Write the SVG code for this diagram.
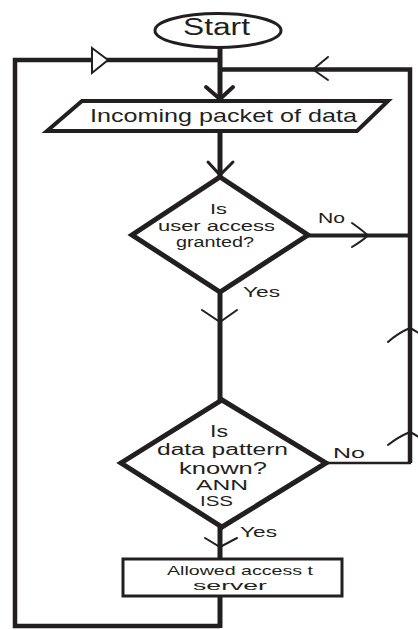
<svg xmlns="http://www.w3.org/2000/svg" width="418" height="630" viewBox="0 0 418 630">
<style>
.shape{fill:#fff;stroke:#231f20;stroke-linejoin:miter}
.ln{fill:none;stroke:#231f20;stroke-linecap:butt;stroke-linejoin:miter}
.ah{fill:none;stroke:#231f20;stroke-linecap:round}
text{font-family:"Liberation Sans",Arial,sans-serif;fill:#231f20}
</style>
<rect width="418" height="630" fill="#fff"/>
<g id="connectors">
  <!-- left loop -->
  <polyline class="ln" stroke-width="4.5" points="220,626 15,626 15,60 220,60"/>
  <polygon points="92,48 108,60 92,73" fill="#fff" stroke="#231f20" stroke-width="2"/>
  <!-- right loop -->
  <polyline class="ln" stroke-width="4" points="308,235.5 410,235.5"/>
  <polyline class="ln" stroke-width="4.5" points="410,463 410,69.5 220,69.5"/>
  <polyline class="ln" stroke-width="2.5" points="326,463 411,463"/>
  <path class="ah" stroke-width="2" d="M328,57 L313,69.5 L328,80"/>
  <path class="ah" stroke-width="2" d="M352,223 Q362,230 368,235.5 Q362,241 352,247"/>
  <path class="ah" stroke-width="2" d="M388,342 Q398,333 410,328 Q420,333 430,342"/>
  <path class="ah" stroke-width="2" d="M388,445 Q398,437 410,432 Q420,437 430,445"/>
  <!-- main spine -->
  <line class="ln" stroke-width="5" x1="220" y1="47" x2="220" y2="101"/>
  <path class="ah" stroke-width="4" d="M206,87 L220,99 L233,87"/>
  <line class="ln" stroke-width="5" x1="220" y1="131" x2="220" y2="178"/>
  <path class="ah" stroke-width="3" d="M208,162 L220,175 L233,162"/>
  <line class="ln" stroke-width="5" x1="220" y1="292" x2="220" y2="412"/>
  <path class="ah" stroke-width="2" d="M202,310 L220,322 L237,310"/>
  <line class="ln" stroke-width="5" x1="220" y1="526" x2="220" y2="559"/>
  <path class="ah" stroke-width="2" d="M205,538 L220,547 L237,538"/>
  <line class="ln" stroke-width="5" x1="220" y1="596" x2="220" y2="628"/>
  <text x="318" y="223" font-size="15.5" textLength="27" lengthAdjust="spacingAndGlyphs">No</text>
  <text x="243" y="297" font-size="15.5" textLength="37" lengthAdjust="spacingAndGlyphs">Yes</text>
  <text x="333" y="458" font-size="15.5" textLength="32" lengthAdjust="spacingAndGlyphs">No</text>
  <text x="240" y="537" font-size="15.5" textLength="37" lengthAdjust="spacingAndGlyphs">Yes</text>
</g>
<g id="start">
  <ellipse class="shape" stroke-width="3" cx="218" cy="30.5" rx="63" ry="17"/>
  <text x="183" y="35" font-size="23" textLength="67" lengthAdjust="spacingAndGlyphs">Start</text>
</g>
<g id="incoming">
  <polygon class="shape" stroke-width="4" points="82,101 388,101 357,131 47,131"/>
  <text x="90" y="122" font-size="19" textLength="267" lengthAdjust="spacingAndGlyphs">Incoming packet of data</text>
</g>
<g id="decision-access">
  <polygon class="shape" stroke-width="5" points="220,177 308,235 220,292 132,235"/>
  <text x="210" y="214" font-size="15.5" textLength="17" lengthAdjust="spacingAndGlyphs">Is</text>
  <text x="158" y="231" font-size="15.5" textLength="117" lengthAdjust="spacingAndGlyphs">user access</text>
  <text x="176" y="247" font-size="15.5" textLength="78" lengthAdjust="spacingAndGlyphs">granted?</text>
</g>
<g id="decision-pattern">
  <polygon class="shape" stroke-width="5" points="222,400 326,463 222,527 121,463"/>
  <text x="210" y="437" font-size="16" textLength="18" lengthAdjust="spacingAndGlyphs">Is</text>
  <text x="157" y="455" font-size="16" textLength="131" lengthAdjust="spacingAndGlyphs">data pattern</text>
  <text x="179" y="474" font-size="16" textLength="88" lengthAdjust="spacingAndGlyphs">known?</text>
  <text x="196" y="490" font-size="15" textLength="52" lengthAdjust="spacingAndGlyphs">ANN</text>
  <text x="200" y="506" font-size="15" textLength="33" lengthAdjust="spacingAndGlyphs">ISS</text>
</g>
<g id="allowed">
  <rect class="shape" stroke-width="3" x="123" y="559" width="219" height="37"/>
  <text x="167" y="575" font-size="13" textLength="146" lengthAdjust="spacingAndGlyphs">Allowed access t</text>
  <text x="193" y="590" font-size="13" textLength="74" lengthAdjust="spacingAndGlyphs">server</text>
</g>
</svg>
